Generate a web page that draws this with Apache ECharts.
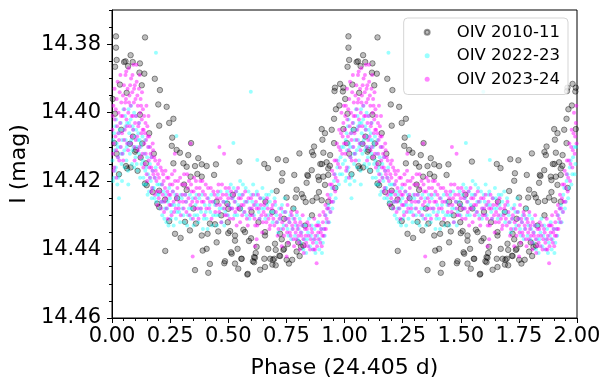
<!DOCTYPE html>
<html>
<head>
<meta charset="utf-8">
<script src="https://cdn.jsdelivr.net/npm/echarts@6/dist/echarts.min.js"></script>
<style>
  html, body { margin: 0; padding: 0; background: #fff; }
  #chart { width: 611px; height: 389px; }
</style>
</head>
<body>
<div id="chart"></div>
<script>
// phase-folded points [phase, I mag], one cycle (0..1); drawn again at phase+1
const oiv2010 = [
  [0.017,14.3777],[0.142,14.3780],[0.017,14.3810],[0.080,14.3832],[0.052,14.3852],[0.058,14.3850],[0.020,14.3846],[0.089,14.3852],
  [0.120,14.3856],[0.013,14.3866],[0.069,14.3864],[0.118,14.3883],[0.139,14.3886],[0.184,14.3901],[0.034,14.3918],[0.128,14.3920],
  [0.206,14.3934],[0.063,14.3942],[0.003,14.3960],[0.199,14.3976],[0.235,14.3983],[0.013,14.4003],[0.120,14.4006],[0.264,14.4018],
  [0.246,14.4030],[0.203,14.4038],[0.010,14.4089],[0.077,14.4091],[0.259,14.4073],[0.340,14.4089],[0.103,14.4109],[0.257,14.4097],
  [0.278,14.4109],[0.292,14.4117],[0.099,14.4114],[0.123,14.4131],[0.328,14.4124],[0.371,14.4133],[0.060,14.4156],[0.080,14.4160],
  [0.386,14.4151],[0.447,14.4151],[0.146,14.4148],[0.264,14.4148],[0.307,14.4148],[0.548,14.4143],[0.806,14.4119],[0.860,14.4115],
  [0.713,14.4136],[0.671,14.4162],[0.981,14.3916],[0.959,14.3927],[0.957,14.3937],[0.995,14.3927],[0.993,14.3938],[0.978,14.3979],
  [0.963,14.3990],[0.955,14.4018],[0.902,14.4048],[0.916,14.4060],[0.945,14.4050],[0.995,14.4048],[0.905,14.4079],[0.869,14.4099],
  [0.955,14.4089],[0.866,14.4124],[0.909,14.4117],[0.938,14.4124],[0.903,14.4150],[0.923,14.4145],[0.859,14.4168],[0.843,14.4185],
  [0.909,14.4187],[0.887,14.4187],[0.655,14.4150],[0.748,14.4139],[0.733,14.4177],[0.784,14.4182],[0.840,14.4182],[0.890,14.4197],
  [0.837,14.4205],[0.930,14.4163],[0.930,14.4182],[0.916,14.4211],[0.730,14.4199],[0.794,14.4225],[0.816,14.4238],[0.751,14.4248],
  [0.862,14.4258],[0.833,14.4261],[0.890,14.4232],[0.902,14.4256],[0.708,14.4229],[0.790,14.4248],[0.823,14.4248],[0.880,14.4248],
  [0.498,14.4320],[0.508,14.4346],[0.500,14.4352],[0.529,14.4359],[0.529,14.4374],[0.565,14.4342],[0.572,14.4349],[0.598,14.4367],
  [0.589,14.4375],[0.658,14.4349],[0.723,14.4354],[0.730,14.4370],[0.756,14.4384],[0.658,14.4359],[0.701,14.4383],[0.672,14.4398],
  [0.622,14.4392],[0.737,14.4401],[0.801,14.4379],[0.813,14.4392],[0.823,14.4388],[0.512,14.4408],[0.540,14.4398],[0.720,14.4418],
  [0.615,14.4424],[0.655,14.4427],[0.680,14.4427],[0.698,14.4427],[0.606,14.4434],[0.558,14.4427],[0.486,14.4434],[0.529,14.4441],
  [0.751,14.4430],[0.761,14.4441],[0.690,14.4444],[0.543,14.4456],[0.658,14.4451],[0.637,14.4459],[0.584,14.4471],[0.065,14.4163],
  [0.142,14.4207],[0.149,14.4212],[0.175,14.4232],[0.203,14.4228],[0.195,14.4266],[0.203,14.4276],[0.228,14.4254],[0.246,14.4317],
  [0.271,14.4354],[0.295,14.4366],[0.229,14.4404],[0.357,14.4460],[0.390,14.4403],[0.407,14.4398],[0.421,14.4442],[0.414,14.4468],
  [0.483,14.4440],[0.450,14.4379],[0.386,14.4359],[0.411,14.4354],[0.335,14.4344],[0.314,14.4319],[0.361,14.4324],[0.421,14.4324],
  [0.443,14.4326],[0.457,14.4347],[0.321,14.4158],[0.357,14.4156],[0.407,14.4156],[0.367,14.4179],[0.338,14.4187],[0.386,14.4187],
  [0.439,14.4182],[0.321,14.4226],[0.496,14.4266],[0.500,14.4281],[0.582,14.4473],[0.704,14.4446],[0.692,14.4430],[0.611,14.4437],
  [0.556,14.4427],[0.515,14.4412],[0.611,14.4422],[0.618,14.4410],[0.723,14.4419],[0.704,14.4401],[0.740,14.4398],[0.807,14.4419],
  [0.794,14.4406],[0.775,14.4430],[0.280,14.4250],[0.350,14.4280],[0.450,14.4260],[0.520,14.4240],[0.600,14.4290],[0.660,14.4260],
  [0.740,14.4310],[0.310,14.4210],[0.470,14.4300],[0.550,14.4280],[0.630,14.4320],[0.690,14.4290],[0.780,14.4280],[0.830,14.4330],
  [0.860,14.4300],[0.020,14.4120],[0.040,14.4050],[0.090,14.4070],[0.130,14.4090],[0.160,14.4060],[0.180,14.4120],[0.030,14.4180],
  [0.110,14.4170],[0.896,14.4150],[0.937,14.4155],[0.930,14.4260],[0.960,14.4220]
];

const oiv2022 = [
  [0.002,14.414],[0.005,14.408],[0.008,14.419],[0.011,14.411],[0.014,14.404],[0.017,14.416],[0.020,14.409],[0.023,14.421],
  [0.026,14.413],[0.029,14.406],[0.032,14.418],[0.035,14.410],[0.038,14.403],[0.041,14.415],[0.044,14.408],[0.047,14.412],
  [0.050,14.405],[0.053,14.411],[0.056,14.401],[0.059,14.408],[0.062,14.414],[0.065,14.403],[0.068,14.409],[0.071,14.399],
  [0.074,14.406],[0.077,14.412],[0.080,14.402],[0.083,14.408],[0.086,14.415],[0.089,14.404],[0.092,14.410],[0.095,14.400],
  [0.098,14.407],[0.101,14.413],[0.104,14.405],[0.107,14.410],[0.110,14.417],[0.113,14.406],[0.116,14.412],[0.119,14.408],
  [0.123,14.410],[0.127,14.415],[0.131,14.407],[0.135,14.419],[0.139,14.412],[0.143,14.417],[0.147,14.421],[0.151,14.413],
  [0.155,14.418],[0.159,14.423],[0.163,14.415],[0.167,14.420],[0.171,14.425],[0.175,14.417],[0.180,14.422],[0.185,14.419],
  [0.190,14.426],[0.195,14.421],[0.201,14.424],[0.207,14.428],[0.213,14.421],[0.219,14.426],[0.225,14.431],[0.231,14.424],
  [0.237,14.428],[0.243,14.433],[0.249,14.425],[0.255,14.429],[0.261,14.423],[0.268,14.427],[0.275,14.431],[0.282,14.425],
  [0.289,14.429],[0.296,14.424],[0.303,14.428],[0.311,14.432],[0.319,14.426],[0.327,14.430],[0.335,14.424],[0.343,14.428],
  [0.351,14.433],[0.359,14.427],[0.367,14.430],[0.375,14.425],[0.383,14.429],[0.391,14.434],[0.399,14.427],[0.407,14.431],
  [0.415,14.425],[0.423,14.429],[0.431,14.433],[0.439,14.426],[0.447,14.430],[0.455,14.424],[0.463,14.428],[0.471,14.432],
  [0.479,14.426],[0.487,14.429],[0.495,14.423],[0.503,14.427],[0.511,14.421],[0.519,14.425],[0.527,14.430],[0.535,14.423],
  [0.543,14.427],[0.551,14.420],[0.559,14.424],[0.567,14.429],[0.575,14.422],[0.583,14.426],[0.591,14.431],[0.599,14.424],
  [0.607,14.421],[0.615,14.427],[0.623,14.423],[0.631,14.429],[0.639,14.425],[0.647,14.422],[0.655,14.428],[0.663,14.424],
  [0.671,14.430],[0.679,14.426],[0.687,14.423],[0.695,14.429],[0.703,14.427],[0.711,14.432],[0.719,14.428],[0.727,14.434],
  [0.735,14.429],[0.743,14.425],[0.751,14.431],[0.759,14.436],[0.767,14.430],[0.775,14.434],[0.783,14.428],[0.791,14.433],
  [0.799,14.437],[0.807,14.431],[0.815,14.435],[0.823,14.440],[0.831,14.433],[0.839,14.437],[0.847,14.431],[0.855,14.436],
  [0.863,14.440],[0.871,14.434],[0.879,14.438],[0.887,14.432],[0.895,14.437],[0.903,14.441],[0.911,14.434],[0.919,14.430],
  [0.927,14.428],[0.934,14.432],[0.941,14.424],[0.948,14.428],[0.955,14.420],[0.962,14.425],[0.969,14.416],[0.976,14.421],
  [0.983,14.413],[0.990,14.418],[0.996,14.410],[0.189,14.3825],[0.597,14.3939],[0.522,14.4089],[0.277,14.4068],[0.625,14.4138],
  [0.070,14.421],[0.030,14.425],
  [0.004,14.420],[0.009,14.406],[0.013,14.417],[0.018,14.402],[0.024,14.410],[0.028,14.419],[0.033,14.405],[0.039,14.412],
  [0.043,14.420],[0.049,14.399],[0.054,14.416],[0.058,14.404],[0.063,14.410],[0.069,14.417],[0.073,14.403],[0.078,14.409],
  [0.082,14.398],[0.087,14.411],[0.091,14.405],[0.096,14.416],[0.102,14.401],[0.106,14.415],[0.111,14.408],[0.117,14.403],
  [0.121,14.419],[0.126,14.409],[0.132,14.414],[0.137,14.421],[0.142,14.408],[0.148,14.416],[0.153,14.424],[0.158,14.410],
  [0.164,14.419],[0.169,14.413],[0.176,14.422],[0.183,14.425],[0.188,14.416],[0.196,14.424],[0.204,14.421],[0.210,14.426],
  [0.216,14.430],[0.222,14.423],[0.228,14.428],[0.234,14.432],[0.240,14.426],[0.246,14.422],[0.252,14.431],[0.258,14.427],
  [0.265,14.433],[0.272,14.424],[0.279,14.429],[0.286,14.427],[0.293,14.432],[0.300,14.425],[0.307,14.430],[0.315,14.424],
  [0.323,14.433],[0.331,14.428],[0.339,14.431],[0.347,14.425],[0.355,14.430],[0.363,14.424],[0.371,14.432],[0.379,14.428],
  [0.387,14.424],[0.395,14.431],[0.403,14.429],[0.411,14.434],[0.419,14.427],[0.427,14.424],[0.435,14.430],[0.443,14.427],
  [0.451,14.433],[0.459,14.430],[0.467,14.423],[0.475,14.428],[0.483,14.433],[0.491,14.426],[0.499,14.430],[0.507,14.424],
  [0.515,14.428],[0.523,14.422],[0.531,14.426],[0.539,14.430],[0.547,14.424],[0.555,14.428],[0.563,14.421],[0.571,14.426],
  [0.579,14.430],[0.587,14.423],[0.595,14.428],[0.603,14.426],[0.611,14.430],[0.619,14.424],[0.627,14.427],[0.635,14.431],
  [0.643,14.428],[0.651,14.425],[0.659,14.431],[0.667,14.427],[0.675,14.424],[0.683,14.429],[0.691,14.432],[0.699,14.425],
  [0.707,14.430],[0.715,14.435],[0.723,14.431],[0.731,14.427],[0.739,14.433],[0.747,14.429],[0.755,14.434],[0.763,14.432],
  [0.771,14.437],[0.779,14.431],[0.787,14.436],[0.795,14.430],[0.803,14.434],[0.811,14.438],[0.819,14.433],[0.827,14.437],
  [0.835,14.441],[0.843,14.435],[0.851,14.439],[0.859,14.433],[0.867,14.437],[0.875,14.441],[0.883,14.436],[0.891,14.440],
  [0.899,14.434],[0.907,14.438],[0.915,14.436],[0.923,14.432],[0.931,14.427],[0.938,14.429],[0.945,14.422],[0.952,14.426],
  [0.959,14.418],[0.966,14.422],[0.973,14.414],[0.980,14.418],[0.987,14.410],[0.993,14.415]
];

const oiv2023 = [
  [0.002,14.405],[0.004,14.412],[0.006,14.398],[0.008,14.409],[0.010,14.416],[0.012,14.402],[0.015,14.407],[0.018,14.411],
  [0.020,14.396],[0.022,14.404],[0.025,14.413],[0.028,14.400],[0.030,14.408],[0.033,14.394],[0.035,14.403],[0.038,14.410],
  [0.040,14.397],[0.043,14.406],[0.046,14.401],[0.048,14.414],[0.051,14.392],[0.053,14.399],[0.055,14.405],[0.058,14.389],
  [0.060,14.396],[0.062,14.402],[0.065,14.409],[0.067,14.393],[0.070,14.400],[0.072,14.387],[0.075,14.395],[0.077,14.404],
  [0.080,14.398],[0.082,14.390],[0.085,14.407],[0.087,14.394],[0.090,14.401],[0.092,14.386],[0.094,14.397],[0.096,14.410],
  [0.098,14.392],[0.099,14.403],[0.101,14.396],[0.104,14.401],[0.106,14.391],[0.108,14.407],[0.111,14.398],[0.113,14.404],
  [0.116,14.393],[0.118,14.410],[0.121,14.400],[0.123,14.396],[0.126,14.406],[0.128,14.402],[0.131,14.412],[0.133,14.399],
  [0.136,14.405],[0.139,14.409],[0.141,14.415],[0.144,14.403],[0.147,14.408],[0.149,14.418],[0.152,14.404],[0.155,14.410],
  [0.158,14.414],[0.160,14.407],[0.163,14.419],[0.166,14.412],[0.169,14.416],[0.172,14.422],[0.175,14.409],[0.178,14.418],
  [0.181,14.413],[0.184,14.424],[0.188,14.417],[0.191,14.420],[0.195,14.427],[0.198,14.415],[0.202,14.419],[0.206,14.423],
  [0.209,14.416],[0.213,14.426],[0.216,14.421],[0.220,14.418],[0.224,14.429],[0.228,14.422],[0.232,14.425],[0.236,14.419],
  [0.240,14.431],[0.245,14.424],[0.249,14.421],[0.253,14.427],[0.258,14.418],[0.262,14.423],[0.267,14.429],[0.271,14.420],
  [0.276,14.425],[0.281,14.422],[0.287,14.428],[0.293,14.419],[0.300,14.421],[0.305,14.426],[0.310,14.418],[0.315,14.424],
  [0.320,14.429],[0.326,14.422],[0.331,14.420],[0.337,14.427],[0.342,14.423],[0.348,14.431],[0.353,14.419],[0.358,14.425],
  [0.363,14.422],[0.369,14.428],[0.374,14.424],[0.380,14.420],[0.386,14.426],[0.391,14.423],[0.397,14.430],[0.403,14.421],
  [0.410,14.425],[0.418,14.428],[0.425,14.422],[0.433,14.426],[0.441,14.424],[0.449,14.427],[0.455,14.423],[0.461,14.429],
  [0.467,14.425],[0.473,14.421],[0.479,14.426],[0.485,14.430],[0.491,14.424],[0.497,14.427],[0.503,14.422],[0.509,14.428],
  [0.515,14.425],[0.521,14.431],[0.527,14.426],[0.533,14.423],[0.539,14.428],[0.545,14.425],[0.551,14.432],[0.557,14.427],
  [0.563,14.424],[0.570,14.429],[0.577,14.426],[0.584,14.433],[0.591,14.428],[0.598,14.425],[0.604,14.430],[0.610,14.427],
  [0.616,14.433],[0.622,14.428],[0.628,14.424],[0.634,14.431],[0.640,14.427],[0.646,14.435],[0.652,14.429],[0.658,14.426],
  [0.664,14.432],[0.670,14.428],[0.677,14.434],[0.684,14.430],[0.691,14.427],[0.698,14.433],[0.705,14.429],[0.712,14.436],
  [0.720,14.431],[0.728,14.428],[0.736,14.434],[0.744,14.429],[0.750,14.433],[0.755,14.427],[0.760,14.431],[0.765,14.435],
  [0.770,14.429],[0.775,14.433],[0.780,14.437],[0.785,14.431],[0.790,14.435],[0.795,14.429],[0.800,14.433],[0.805,14.438],
  [0.810,14.432],[0.815,14.436],[0.820,14.430],[0.825,14.441],[0.830,14.434],[0.835,14.438],[0.840,14.432],[0.846,14.436],
  [0.852,14.440],[0.858,14.434],[0.864,14.438],[0.870,14.431],[0.875,14.436],[0.880,14.444],[0.884,14.433],[0.889,14.437],
  [0.893,14.430],[0.898,14.435],[0.902,14.439],[0.907,14.432],[0.911,14.436],[0.916,14.430],[0.920,14.434],[0.925,14.428],
  [0.930,14.432],[0.935,14.425],[0.940,14.429],[0.945,14.421],[0.950,14.426],[0.955,14.418],[0.960,14.423],[0.965,14.414],
  [0.970,14.420],[0.975,14.410],[0.980,14.416],[0.985,14.406],[0.990,14.412],[0.995,14.403],[0.998,14.409],[0.338,14.409],
  [0.462,14.410],[0.482,14.412],[0.270,14.412],[0.347,14.442],[0.622,14.437],[0.615,14.439],[0.730,14.439],[0.751,14.442],
  [0.873,14.440],
  [0.003,14.401],[0.007,14.417],[0.011,14.393],[0.016,14.399],[0.019,14.419],[0.024,14.391],[0.027,14.406],[0.031,14.414],
  [0.036,14.389],[0.039,14.401],[0.044,14.412],[0.047,14.395],[0.052,14.408],[0.057,14.397],[0.061,14.388],[0.064,14.404],
  [0.069,14.411],[0.073,14.397],[0.078,14.392],[0.081,14.409],[0.084,14.401],[0.088,14.389],[0.091,14.405],[0.095,14.393],
  [0.097,14.414],[0.102,14.408],[0.105,14.386],[0.109,14.395],[0.112,14.411],[0.115,14.403],[0.119,14.389],[0.122,14.413],
  [0.125,14.398],[0.129,14.394],[0.132,14.405],[0.135,14.416],[0.138,14.401],[0.142,14.406],[0.145,14.412],[0.148,14.398],
  [0.151,14.420],[0.154,14.407],[0.157,14.401],[0.161,14.416],[0.164,14.410],[0.168,14.423],[0.171,14.413],[0.174,14.417],
  [0.177,14.411],[0.183,14.419],[0.186,14.414],[0.193,14.423],[0.197,14.418],[0.201,14.425],[0.204,14.414],[0.211,14.428],
  [0.215,14.417],[0.218,14.424],[0.222,14.420],[0.226,14.426],[0.230,14.417],[0.234,14.428],[0.238,14.423],[0.243,14.419],
  [0.247,14.427],[0.251,14.424],[0.256,14.430],[0.260,14.421],[0.265,14.426],[0.269,14.417],[0.274,14.428],[0.279,14.424],
  [0.284,14.420],[0.290,14.426],[0.296,14.430],[0.302,14.424],[0.308,14.428],[0.313,14.421],[0.318,14.426],[0.323,14.418],
  [0.329,14.425],[0.334,14.430],[0.340,14.421],[0.345,14.426],[0.351,14.423],[0.356,14.428],[0.361,14.420],[0.366,14.426],
  [0.372,14.431],[0.377,14.422],[0.383,14.428],[0.389,14.420],[0.394,14.426],[0.400,14.424],[0.406,14.428],[0.413,14.422],
  [0.421,14.426],[0.428,14.431],[0.436,14.423],[0.444,14.429],[0.451,14.425],[0.458,14.421],[0.464,14.427],[0.470,14.432],
  [0.476,14.424],[0.482,14.428],[0.488,14.422],[0.494,14.430],[0.500,14.425],[0.506,14.431],[0.512,14.423],[0.518,14.428],
  [0.524,14.424],[0.530,14.429],[0.536,14.433],[0.542,14.422],[0.548,14.428],[0.554,14.425],[0.560,14.430],[0.566,14.427],
  [0.573,14.423],[0.580,14.431],[0.587,14.425],[0.594,14.430],[0.601,14.428],[0.607,14.424],[0.613,14.431],[0.619,14.426],
  [0.625,14.433],[0.631,14.428],[0.637,14.425],[0.643,14.430],[0.649,14.432],[0.655,14.427],[0.661,14.430],[0.667,14.425],
  [0.673,14.431],[0.680,14.433],[0.687,14.428],[0.694,14.431],[0.701,14.426],[0.708,14.432],[0.716,14.434],[0.724,14.430],
  [0.732,14.432],[0.740,14.436],[0.747,14.431],[0.753,14.435],[0.758,14.438],[0.763,14.432],[0.768,14.436],[0.773,14.430],
  [0.778,14.434],[0.783,14.439],[0.788,14.432],[0.793,14.437],[0.798,14.434],[0.802,14.436],[0.808,14.440],[0.812,14.435],
  [0.818,14.433],[0.823,14.437],[0.828,14.439],[0.833,14.436],[0.838,14.434],[0.843,14.439],[0.849,14.433],[0.855,14.437],
  [0.861,14.435],[0.867,14.440],[0.872,14.437],[0.878,14.433],[0.882,14.439],[0.887,14.435],[0.891,14.433],[0.896,14.438],
  [0.900,14.434],[0.905,14.436],[0.909,14.429],[0.914,14.434],[0.918,14.427],[0.923,14.431],[0.927,14.424],[0.932,14.428],
  [0.937,14.421],[0.942,14.426],[0.947,14.417],[0.952,14.422],[0.957,14.414],[0.962,14.419],[0.967,14.409],[0.972,14.415],
  [0.977,14.405],[0.982,14.411],[0.987,14.400],[0.992,14.407],[0.997,14.398]
];

const seriesNames = ['OIV 2010-11', 'OIV 2022-23', 'OIV 2023-24'];
const yMajorTicks = [14.38, 14.40, 14.42, 14.44, 14.46];

// the phase diagram is shown twice: phase and phase + 1
function twoCycles(points) {
  return points.concat(points.map(p => [p[0] + 1, p[1]]));
}

const font = 'DejaVu Sans';
const chart = echarts.init(document.getElementById('chart'), null, { renderer: 'canvas' });

chart.setOption({
  animation: false,
  backgroundColor: '#fff',
  grid: {
    left: 112, right: 34, top: 10, bottom: 71,
    show: true, borderColor: '#000', borderWidth: 1, backgroundColor: 'transparent'
  },
  legend: {
    orient: 'vertical',
    right: 43,
    top: 18,
    data: seriesNames,
    icon: 'circle',
    itemWidth: 5,
    itemHeight: 5,
    itemGap: 5,
    padding: [5, 8, 6, 20],
    backgroundColor: 'rgba(255,255,255,0.8)',
    borderColor: '#d5d5d5',
    borderWidth: 1,
    borderRadius: 4,
    textStyle: { fontFamily: font, fontSize: 16.5, color: '#000', lineHeight: 18.5, padding: [0, 0, 0, 22] }
  },
  xAxis: {
    type: 'value',
    min: 0,
    max: 2,
    interval: 0.25,
    name: 'Phase (24.405 d)',
    nameLocation: 'middle',
    nameGap: 39,
    nameTextStyle: { fontFamily: font, fontSize: 22, color: '#000', verticalAlign: 'top' },
    axisLine: { show: true, lineStyle: { color: '#000', width: 1 } },
    axisTick: { show: true, length: 5, lineStyle: { color: '#000', width: 1 } },
    minorTick: { show: true, splitNumber: 5, length: 3, lineStyle: { color: '#000', width: 1 } },
    splitLine: { show: false },
    axisLabel: {
      fontFamily: font, fontSize: 21, color: '#000', margin: 8,
      formatter: v => v.toFixed(2)
    }
  },
  yAxis: [
    {
      type: 'value',
      inverse: true,
      min: 14.37,
      max: 14.46,
      splitNumber: 5,
      name: 'I (mag)',
      nameLocation: 'middle',
      nameGap: 80,
      nameTextStyle: { fontFamily: font, fontSize: 22, color: '#000' },
      axisLine: { show: true, lineStyle: { color: '#000', width: 1 } },
      axisTick: { show: true, length: 5, lineStyle: { color: '#000', width: 1 } },
      splitLine: { show: false },
      axisLabel: {
        fontFamily: font, fontSize: 21, color: '#000', margin: 11,
        showMinLabel: false,
        formatter: v => yMajorTicks.some(t => Math.abs(t - v) < 1e-6) ? v.toFixed(2) : ''
      }
    },
    {
      // minor ticks only, every 0.005 mag
      type: 'value',
      inverse: true,
      min: 14.37,
      max: 14.46,
      interval: 0.005,
      position: 'left',
      axisLine: { show: false },
      axisTick: { show: true, length: 3, lineStyle: { color: '#000', width: 1 } },
      axisLabel: { show: false },
      splitLine: { show: false }
    }
  ],
  series: [
    {
      name: seriesNames[0],
      type: 'scatter',
      symbol: 'circle',
      symbolSize: 5.5,
      data: twoCycles(oiv2010),
      itemStyle: { color: 'rgba(0,0,0,0.32)', borderColor: 'rgba(0,0,0,0.5)', borderWidth: 1 },
      emphasis: { disabled: true }
    },
    {
      name: seriesNames[1],
      type: 'scatter',
      symbol: 'circle',
      symbolSize: 4,
      data: twoCycles(oiv2022),
      itemStyle: { color: 'rgba(0,255,255,0.5)' },
      emphasis: { disabled: true }
    },
    {
      name: seriesNames[2],
      type: 'scatter',
      symbol: 'circle',
      symbolSize: 4,
      data: twoCycles(oiv2023),
      itemStyle: { color: 'rgba(255,0,255,0.6)' },
      emphasis: { disabled: true }
    }
  ]
});
</script>
</body>
</html>
